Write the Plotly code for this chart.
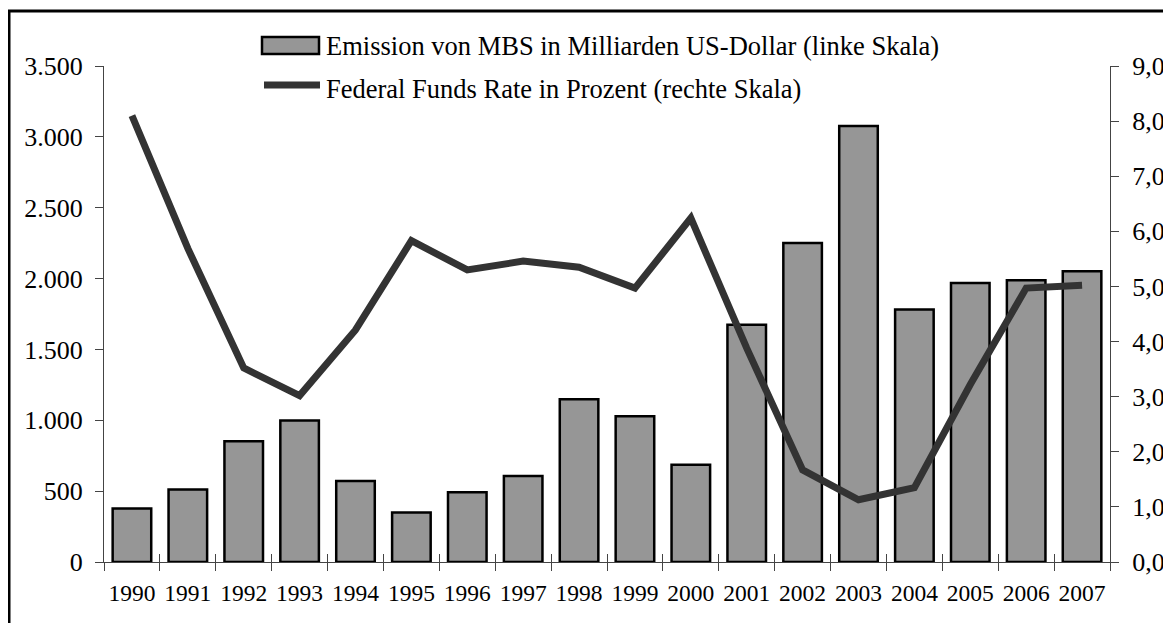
import plotly.graph_objects as go

years = ["1990", "1991", "1992", "1993", "1994", "1995", "1996", "1997", "1998",
         "1999", "2000", "2001", "2002", "2003", "2004", "2005", "2006", "2007"]
mbs_issuance = [377, 511, 852, 998, 572, 349, 492, 607, 1148,
                1028, 687, 1675, 2251, 3076, 1781, 1969, 1988, 2051]
fed_funds_rate = [8.10, 5.69, 3.52, 3.02, 4.21, 5.83, 5.30, 5.46, 5.35,
                  4.97, 6.24, 3.88, 1.67, 1.13, 1.35, 3.22, 4.97, 5.02]

bar_name = "Emission von MBS in Milliarden US-Dollar (linke Skala)"
line_name = "Federal Funds Rate in Prozent (rechte Skala)"

OFF = 8  # page offset of the plot div (body margin)
W, H = 1171 - OFF, 623 - OFF
# desired plot area in page pixels
PL, PR, PT, PB = 104, 1110, 66, 562
L = PL - OFF
T = PT - OFF
R = W - (PR - OFF)
B = H - (PB - OFF)
PW, PH = PR - PL, PB - PT

def px(x):
    return (x - PL) / PW

def py(y):
    return (PB - y) / PH

FONT = '"Liberation Serif", "Times New Roman", Times, "DejaVu Serif", serif'
BAR_COLOR = "#969696"
LINE_COLOR = "#333333"
AX = "#444444"

fig = go.Figure()
fig.add_trace(go.Bar(x=years, y=mbs_issuance, name=bar_name,
                     marker=dict(color=BAR_COLOR, line=dict(color="black", width=2.5)),
                     xaxis="x", yaxis="y", showlegend=False))
fig.add_trace(go.Scatter(x=years, y=fed_funds_rate, name=line_name, mode="lines",
                         line=dict(color=LINE_COLOR, width=7),
                         xaxis="x2", yaxis="y2", showlegend=False))

xr = [-0.5, len(years) - 0.5]
common_x = dict(type="category", range=xr, tickson="boundaries", ticklen=8,
                tickcolor=AX, tickwidth=1, showline=True, linecolor=AX, linewidth=1,
                showgrid=False, zeroline=False, fixedrange=True, automargin=False)

fig.update_layout(
    width=W, height=H,
    margin=dict(l=L, r=R, t=T, b=B, pad=0, autoexpand=False),
    paper_bgcolor="white", plot_bgcolor="white",
    separators=",.",
    font=dict(family=FONT, size=26, color="black"),
    bargap=0.31,
    showlegend=False,
    xaxis=dict(**common_x, ticks="outside", showticklabels=True, tickangle=0,
               tickfont=dict(family=FONT, size=23.5, color="black"),
               ticklabelstandoff=10),
    xaxis2=dict(**common_x, ticks="inside", showticklabels=False,
                overlaying="x", anchor="y2"),
    yaxis=dict(range=[0, 3500], dtick=500, tickformat=",d", ticks="outside", ticklen=8,
               tickcolor=AX, showline=True, linecolor=AX, linewidth=1, showgrid=False,
               zeroline=False, side="left", ticklabelstandoff=7, automargin=False,
               tickfont=dict(family=FONT, size=26, color="black")),
    yaxis2=dict(range=[0, 9], dtick=1, tickformat=".1f", ticks="outside", ticklen=8,
                tickcolor=AX, showline=True, linecolor=AX, linewidth=1, showgrid=False,
                zeroline=False, side="right", overlaying="y", anchor="x2",
                ticklabelstandoff=8, automargin=False,
                tickfont=dict(family=FONT, size=26, color="black")),
    yaxis3=dict(range=[0, 3500], dtick=500, ticks="inside", ticklen=8, tickcolor=AX,
                showticklabels=False, showline=False, showgrid=False, zeroline=False,
                side="left", overlaying="y", anchor="x", automargin=False),
    yaxis4=dict(range=[0, 9], dtick=1, ticks="inside", ticklen=8, tickcolor=AX,
                showticklabels=False, showline=False, showgrid=False, zeroline=False,
                side="right", overlaying="y", anchor="x2", automargin=False),
)

# outer frame
fig.add_shape(type="rect", xref="paper", yref="paper",
              x0=px(9), x1=px(1200), y0=py(660), y1=py(11),
              line=dict(color="black", width=3), fillcolor="rgba(0,0,0,0)", layer="above")

# manual legend
fig.add_shape(type="rect", xref="paper", yref="paper",
              x0=px(262), x1=px(319), y0=py(54), y1=py(37),
              line=dict(color="black", width=2.5), fillcolor=BAR_COLOR)
fig.add_shape(type="line", xref="paper", yref="paper",
              x0=px(264), x1=px(320), y0=py(85), y1=py(85),
              line=dict(color=LINE_COLOR, width=7))
fig.add_annotation(text=bar_name, xref="paper", yref="paper", x=px(324), y=py(46),
                   xanchor="left", yanchor="middle", showarrow=False,
                   font=dict(family=FONT, size=26.5, color="black"))
fig.add_annotation(text=line_name, xref="paper", yref="paper", x=px(324), y=py(89),
                   xanchor="left", yanchor="middle", showarrow=False,
                   font=dict(family=FONT, size=26.5, color="black"))

fig.write_html("out.html")
